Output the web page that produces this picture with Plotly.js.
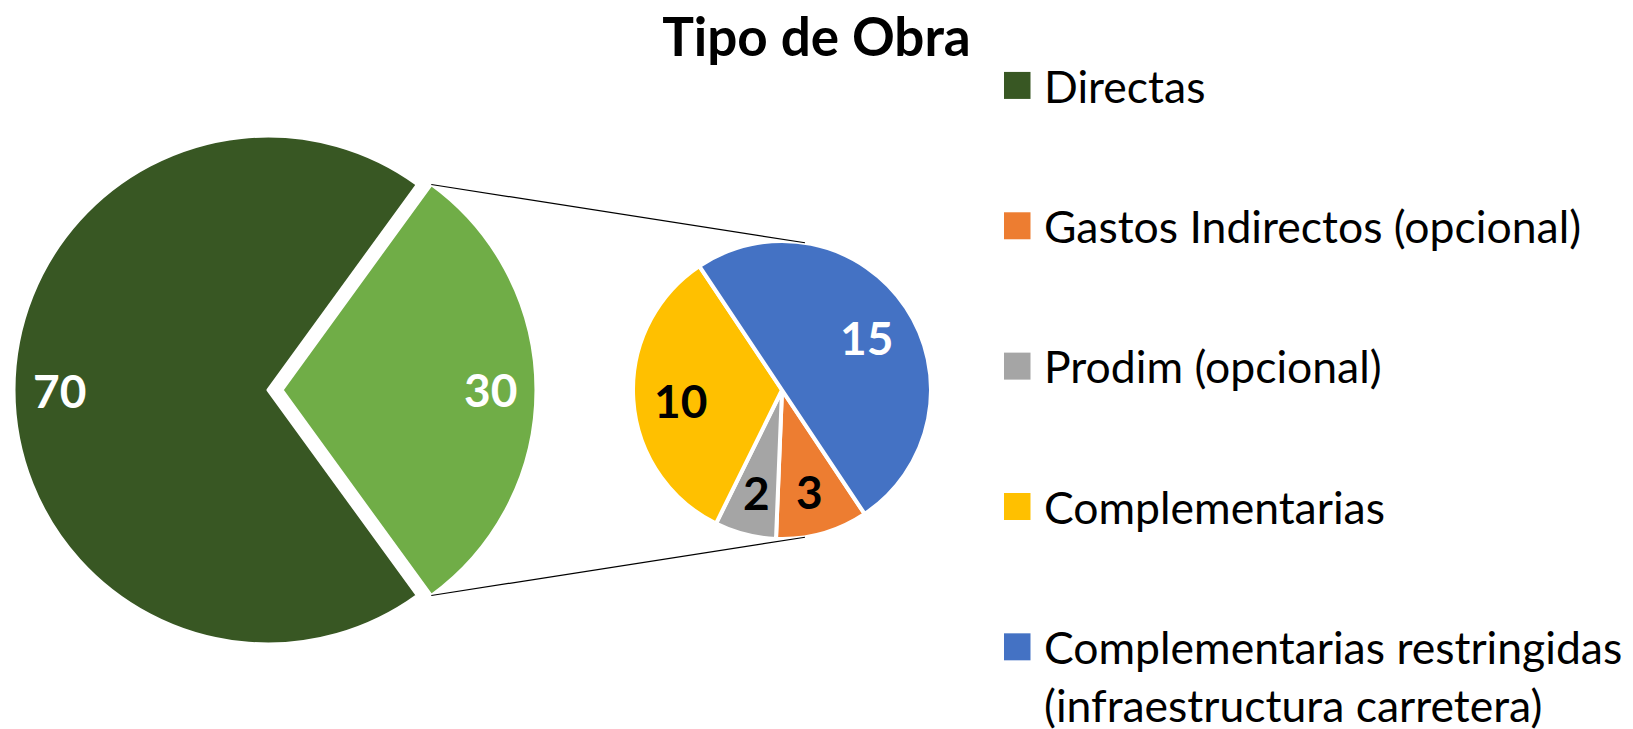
<!DOCTYPE html>
<html>
<head>
<meta charset="utf-8">
<script src="https://cdn.plot.ly/plotly-3.0.1.min.js"></script>
<style>
  html, body { margin: 0; padding: 0; background: #ffffff; }
  #chart { width: 1633px; height: 729px; }
</style>
</head>
<body>
<div id="chart"></div>
<script>
// ---------- data ----------
const chartTitle = 'Tipo de Obra';

const mainLabels = ['Directas', 'Otros'];
const mainValues = [70, 30];
const mainColors = ['#385723', '#70AD47'];
const mainTextColors = ['#ffffff', '#ffffff'];

const subLabels = ['Gastos Indirectos (opcional)', 'Prodim (opcional)', 'Complementarias', 'Complementarias restringidas<br>(infraestructura carretera)'];
const subValues = [3, 2, 10, 15];
const subColors = ['#ED7D31', '#A5A5A5', '#FFC000', '#4472C4'];
const subTextColors = ['#000000', '#000000', '#000000', '#ffffff'];

const legendLabels = ['Directas', 'Gastos Indirectos (opcional)', 'Prodim (opcional)', 'Complementarias', 'Complementarias restringidas<br>(infraestructura carretera)'];
const legendColors = ['#385723', '#ED7D31', '#A5A5A5', '#FFC000', '#4472C4'];

// ---------- layout geometry (pixels) ----------
const W = 1633, H = 729;
const mainGeo = { cx: 268, cy: 390, r: 254, pull: 0.055, rotation: 144, labelFrac: 0.82, yshift: 0 };
const subGeo  = { cx: 782, cy: 390, r: 149, pull: 0,     rotation: 146.3, labelFrac: 0.68, yshift: -4 };
const FONT = 'Lato, "Open Sans", sans-serif';

function domainOf(g) {
  const half = g.r * (1 + g.pull);
  return {
    x: [(g.cx - half) / W, (g.cx + half) / W],
    y: [1 - (g.cy + half) / H, 1 - (g.cy - half) / H]
  };
}

// label positions derived from the slice values
function sliceLabels(values, texts, colors, g, pulls) {
  const total = values.reduce((a, b) => a + b, 0);
  let cum = 0;
  const out = [];
  values.forEach((v, i) => {
    const mid = (g.rotation + 360 * (cum + v / 2) / total) * Math.PI / 180;
    cum += v;
    const p = (pulls && pulls[i]) || 0;
    const rr = g.r * (g.labelFrac + p);
    const px = g.cx + rr * Math.sin(mid);
    const py = g.cy - rr * Math.cos(mid);
    out.push({
      x: px / W, y: 1 - py / H, xref: 'paper', yref: 'paper',
      text: String(texts[i]), showarrow: false,
      xanchor: 'center', yanchor: 'middle', yshift: g.yshift,
      font: { family: FONT, size: 46, color: colors[i], weight: 700 }
    });
  });
  return out;
}

const mainPulls = [0, mainGeo.pull];

const traces = [
  {
    type: 'pie', labels: mainLabels, values: mainValues, sort: false,
    direction: 'clockwise', rotation: mainGeo.rotation,
    pull: mainPulls, domain: domainOf(mainGeo),
    marker: { colors: mainColors, line: { color: '#ffffff', width: 3 } },
    textinfo: 'none', showlegend: false, hoverinfo: 'label+value'
  },
  {
    type: 'pie', labels: subLabels, values: subValues, sort: false,
    direction: 'clockwise', rotation: subGeo.rotation,
    domain: domainOf(subGeo),
    marker: { colors: subColors, line: { color: '#ffffff', width: 4 } },
    textinfo: 'none', showlegend: false, hoverinfo: 'label+value'
  }
];

// legend-only entries
legendLabels.forEach((lab, i) => {
  traces.push({
    type: 'bar', x: [null], y: [null], name: lab,
    marker: { color: legendColors[i], line: { width: 0 } },
    legendgroup: 'g' + i, showlegend: true, hoverinfo: 'skip'
  });
});

// connector lines: from the pulled slice corners, tangent to the second pie
function connectors() {
  const total = mainValues.reduce((a, b) => a + b, 0);
  const startDeg = mainGeo.rotation + 360 * mainValues[0] / total;
  const endDeg = startDeg + 360 * mainValues[1] / total;
  const midDeg = (startDeg + endDeg) / 2;
  const rad = d => d * Math.PI / 180;
  const off = mainGeo.pull * mainGeo.r;
  const ax = mainGeo.cx + off * Math.sin(rad(midDeg));
  const ay = mainGeo.cy - off * Math.cos(rad(midDeg));
  const pA = [ax + mainGeo.r * Math.sin(rad(startDeg)), ay - mainGeo.r * Math.cos(rad(startDeg))];
  const pB = [ax + mainGeo.r * Math.sin(rad(endDeg)), ay - mainGeo.r * Math.cos(rad(endDeg))];
  function tangent(p, upper) {
    const vx = p[0] - subGeo.cx, vy = subGeo.cy - p[1];
    const d = Math.hypot(vx, vy);
    const phi = Math.atan2(vy, vx);
    const a = Math.acos(subGeo.r / d);
    const t = upper ? phi - a : phi + a;
    return [subGeo.cx + subGeo.r * Math.cos(t), subGeo.cy - subGeo.r * Math.sin(t)];
  }
  const qA = tangent(pA, true);
  const qB = tangent(pB, false);
  const mk = (p, q) => ({
    type: 'line', xref: 'paper', yref: 'paper',
    x0: p[0] / W, y0: 1 - p[1] / H, x1: q[0] / W, y1: 1 - q[1] / H,
    line: { color: '#000000', width: 1.2 }, layer: 'above'
  });
  return [mk(pA, qA), mk(pB, qB)];
}

const annotations = []
  .concat(sliceLabels(mainValues, mainValues, mainTextColors, mainGeo, mainPulls))
  .concat(sliceLabels(subValues, subValues, subTextColors, subGeo, null));

const layout = {
  width: W, height: H,
  margin: { l: 0, r: 0, t: 0, b: 0, autoexpand: false },
  paper_bgcolor: '#ffffff', plot_bgcolor: '#ffffff',
  title: {
    text: '<b>' + chartTitle + '</b>',
    x: 0.5, xref: 'paper', xanchor: 'center',
    y: 1 - 37 / H, yref: 'paper', yanchor: 'middle',
    font: { family: FONT, size: 53, color: '#000000' }
  },
  xaxis: { visible: false, fixedrange: true },
  yaxis: { visible: false, fixedrange: true },
  showlegend: true,
  legend: {
    x: 1004 / W, xanchor: 'left', y: 1 - 50 / H, yanchor: 'top',
    traceorder: 'grouped', tracegroupgap: 79.5, valign: 'top',
    bgcolor: 'rgba(0,0,0,0)', borderwidth: 0,
    font: { family: FONT, size: 44.5, color: '#000000' },
    itemclick: false, itemdoubleclick: false
  },
  shapes: connectors(),
  annotations: annotations
};

function enlargeLegendSymbols() {
  document.querySelectorAll('#chart .legend .legendpoints path').forEach(p => {
    if (p.getAttribute('data-sc')) return;
    p.setAttribute('transform', (p.getAttribute('transform') || '') + ' translate(-7,0) scale(2.25)');
    p.setAttribute('data-sc', '1');
  });
}

const gd = document.getElementById('chart');
Plotly.newPlot(gd, traces, layout, { displayModeBar: false, responsive: false }).then(() => {
  enlargeLegendSymbols();
  gd.on('plotly_afterplot', enlargeLegendSymbols);
});
</script>
</body>
</html>
